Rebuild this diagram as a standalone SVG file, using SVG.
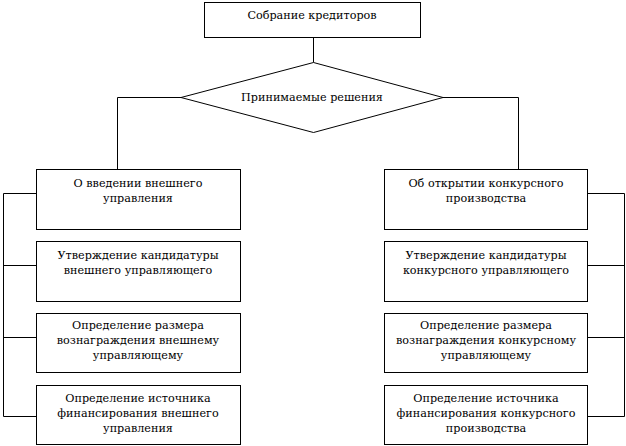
<svg xmlns="http://www.w3.org/2000/svg" width="626" height="446" viewBox="0 0 626 446">
<style>
.b{fill:#fff;stroke:#000;stroke-width:1}
.c{fill:none;stroke:#000;stroke-width:1}
text{font-family:"DejaVu Serif","Liberation Serif",serif;font-size:11.2px;fill:#000;text-anchor:middle}
</style>
<rect width="626" height="446" fill="#fff"/>
<g id="connectors">
<path class="c" d="M313.5 37V62.5"/>
<path class="c" d="M181 97.5H117.5V169"/>
<path class="c" d="M443 97.5H518.5V169"/>
<path class="c" d="M36 193.5H3.5V416.5H36M3.5 265.5H36M3.5 337.5H36"/>
<path class="c" d="M587 193.5H624.5V416.5H587M624.5 265.5H587M624.5 337.5H587"/>
</g>
<g id="n0"><rect class="b" x="204.5" y="2.5" width="216" height="35"/><text x="312" y="19">Собрание кредиторов</text></g>
<g id="n1"><polygon class="b" points="313.5,62.5 443,97.5 313.5,132.5 181,97.5"/><text x="312" y="101">Принимаемые решения</text></g>
<g id="l1"><rect class="b" x="36.5" y="169.5" width="204" height="60"/><text x="138" y="186.5">О введении внешнего</text><text x="138" y="201.5">управления</text></g>
<g id="l2"><rect class="b" x="36.5" y="241.5" width="204" height="60"/><text x="138" y="258.5">Утверждение кандидатуры</text><text x="138" y="273.5">внешнего управляющего</text></g>
<g id="l3"><rect class="b" x="36.5" y="313.5" width="204" height="59"/><text x="138" y="329">Определение размера</text><text x="138" y="344">вознаграждения внешнему</text><text x="138" y="359">управляющему</text></g>
<g id="l4"><rect class="b" x="36.5" y="385.5" width="204" height="59"/><text x="138" y="402">Определение источника</text><text x="138" y="417">финансирования внешнего</text><text x="138" y="432">управления</text></g>
<g id="r1"><rect class="b" x="384.5" y="169.5" width="203" height="60"/><text x="486" y="186.5">Об открытии конкурсного</text><text x="486" y="201.5">производства</text></g>
<g id="r2"><rect class="b" x="384.5" y="241.5" width="203" height="60"/><text x="486" y="258.5">Утверждение кандидатуры</text><text x="486" y="273.5">конкурсного управляющего</text></g>
<g id="r3"><rect class="b" x="384.5" y="313.5" width="203" height="59"/><text x="486" y="329">Определение размера</text><text x="486" y="344">вознаграждения конкурсному</text><text x="486" y="359">управляющему</text></g>
<g id="r4"><rect class="b" x="384.5" y="385.5" width="203" height="59"/><text x="486" y="402">Определение источника</text><text x="486" y="417">финансирования конкурсного</text><text x="486" y="432">производства</text></g>
</svg>
